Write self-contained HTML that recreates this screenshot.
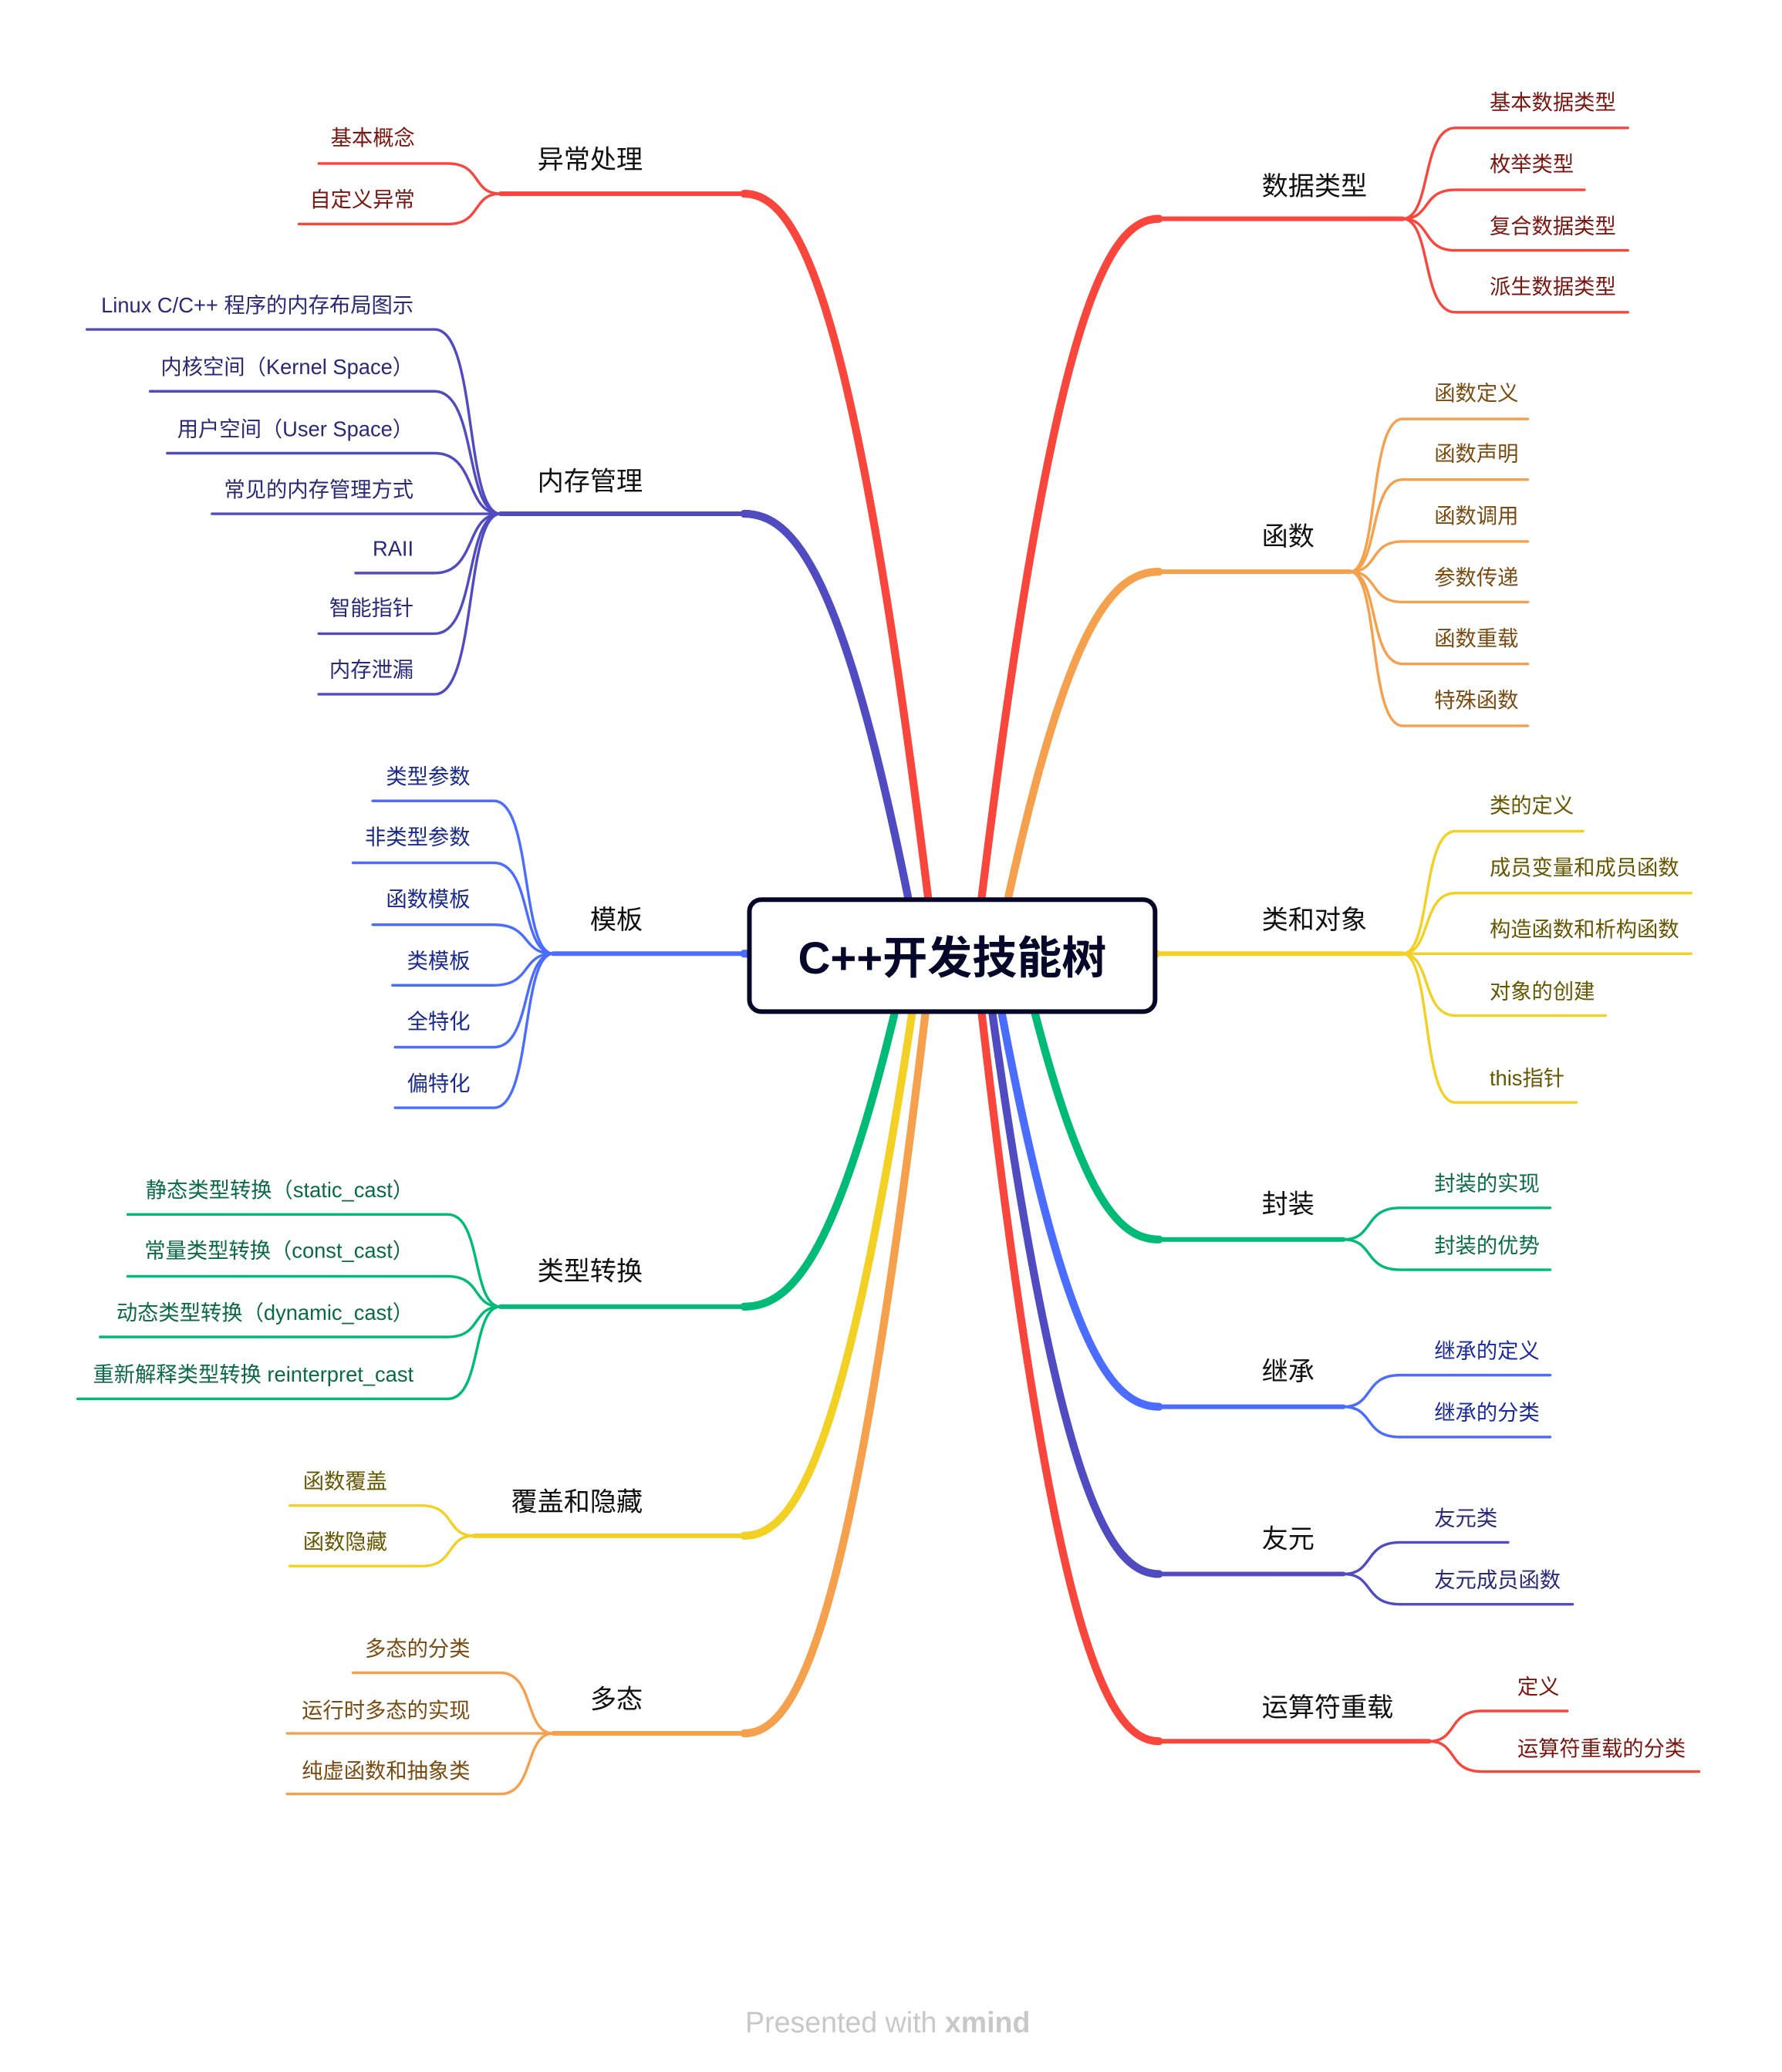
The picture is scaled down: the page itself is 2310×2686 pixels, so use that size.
<!DOCTYPE html>
<html><head><meta charset="utf-8"><style>
html,body{margin:0;padding:0;background:#fff;}
svg{display:block;}
text{font-family:"Liberation Sans","Noto Sans CJK SC",sans-serif;}
</style></head><body>
<svg id="s" xmlns="http://www.w3.org/2000/svg" width="2310" height="2686" viewBox="0 0 1353 1573">
<rect width="1353" height="1573" fill="#fff"/>
<g id="g"></g>
<rect x="569" y="683" width="308" height="85" rx="9" fill="#fff" stroke="#06062a" stroke-width="3.5"/>
<text x="723" y="739" text-anchor="middle" font-size="34" font-weight="bold" fill="#06062a">C++开发技能树</text>
<text x="674" y="1543" text-anchor="middle" font-size="22" fill="#c8c8c8">Presented with <tspan font-weight="bold">xmind</tspan></text>
</svg>
<script>
var g=document.getElementById('g'),h='';
var cx=722,cy=725;
function P(d,c,w){h+='<path d="'+d+'" fill="none" stroke="'+c+'" stroke-width="'+w+'" stroke-linecap="round"/>';}
function T(x,y,t,c,s,a){h+='<text x="'+x+'" y="'+y+'" font-size="'+s+'" fill="'+c+'"'+(a?' text-anchor="'+a+'"':'')+'>'+t+'</text>';}
function main(sx,y,x1,x2,c,label,lx,ly,leaves,lc,tx,anchor){
  var sy = y<cy-20 ? 684 : (y>cy+20 ? 766 : y);
  if(sy===y){ P('M'+cx+','+cy+' L'+x1+','+y,c,6); }
  else{
    P('M'+cx+','+cy+' L'+sx+','+sy,c,6);
    var dx=x1-sx,dy=y-sy;
    P('M'+sx+','+sy+' C'+(sx+dx*0.4)+','+(sy+dy*0.85)+' '+(x1-dx*0.3)+','+y+' '+x1+','+y,c,6);
  }
  P('M'+x1+','+y+' L'+x2+','+y,c,3.5);
  T(lx,ly,label,'#111',20,anchor);
  leaves.forEach(function(L){
    var yl=L[0],st=L[1],en=L[2],t=L[3],ty=L[4];
    var d=st-x2;
    P('M'+x2+','+y+' C'+(x2+d*0.55)+','+y+' '+(x2+d*0.35)+','+yl+' '+st+','+yl+' L'+en+','+yl,c,2);
    T(tx,ty,t,lc,16,anchor);
  });
}
var R='#f8463c',O='#f5a04c',Y='#f2d024',G='#00ba78',B='#4a6cff',Pu='#504bc0';
main(745,166,880,1065,R,'数据类型',958,148,[[97,1105,1236,'基本数据类型',83],[144,1105,1203,'枚举类型',130],[190,1105,1236,'复合数据类型',177],[237,1105,1236,'派生数据类型',223]],'#7a1510',1131);
main(765,434,880,1025,O,'函数',958,414,[[318,1065,1160,'函数定义',304],[364,1065,1160,'函数声明',350],[411,1065,1160,'函数调用',397],[457,1065,1160,'参数传递',444],[504,1065,1160,'函数重载',490],[551,1065,1160,'特殊函数',537]],'#7a4a10',1089);
main(0,724,878,1065,Y,'类和对象',958,705,[[631,1105,1202,'类的定义',617],[678,1105,1284,'成员变量和成员函数',664],[724,1105,1284,'构造函数和析构函数',711],[771,1105,1219,'对象的创建',758],[837,1105,1197,'this指针',824]],'#665600',1131);
main(785,941,880,1020,G,'封装',958,921,[[917,1063,1177,'封装的实现',904],[964,1063,1177,'封装的优势',951]],'#0a6a45',1089);
main(760,1068,880,1020,B,'继承',958,1048,[[1044,1063,1177,'继承的定义',1031],[1091,1063,1177,'继承的分类',1078]],'#1a2a9a',1089);
main(753,1195,880,1020,Pu,'友元',958,1175,[[1171,1063,1145,'友元类',1158],[1218,1063,1194,'友元成员函数',1205]],'#2a2878',1089);
main(745,1322,880,1085,R,'运算符重载',958,1303,[[1299,1125,1190,'定义',1286],[1345,1125,1290,'运算符重载的分类',1333]],'#7a1510',1152);
main(705,147,565,380,R,'异常处理',488,128,[[124,340,242,'基本概念',110],[170,340,227,'自定义异常',157]],'#7a1510',315,'end');
main(690,390,565,380,Pu,'内存管理',488,372,[[250,330,66,'Linux C/C++ 程序的内存布局图示',237],[297,330,114,'内核空间（Kernel Space）',284],[344,330,127,'用户空间（User Space）',331],[390,330,161,'常见的内存管理方式',377],[435,330,270,'RAII',422],[481,330,242,'智能指针',467],[527,330,242,'内存泄漏',514]],'#2a2878',314,'end');
main(0,724,565,420,B,'模板',488,705,[[608,375,283,'类型参数',595],[655,375,268,'非类型参数',641],[702,375,283,'函数模板',688],[748,375,298,'类模板',735],[795,375,300,'全特化',781],[841,375,300,'偏特化',828]],'#1a2a8a',357,'end');
main(680,992,565,380,G,'类型转换',488,972,[[922,340,97,'静态类型转换（static_cast）',909],[969,340,97,'常量类型转换（const_cast）',955],[1015,340,76,'动态类型转换（dynamic_cast）',1002],[1062,340,59,'重新解释类型转换 reinterpret_cast',1049]],'#0a6a45',314,'end');
main(693,1166,565,360,Y,'覆盖和隐藏',488,1147,[[1143,320,220,'函数覆盖',1130],[1189,320,220,'函数隐藏',1176]],'#665600',294,'end');
main(703,1316,565,420,O,'多态',488,1297,[[1270,380,268,'多态的分类',1257],[1316,380,218,'运行时多态的实现',1304],[1362,380,218,'纯虚函数和抽象类',1350]],'#7a4a10',357,'end');
g.innerHTML=h;
</script>
</body></html>
